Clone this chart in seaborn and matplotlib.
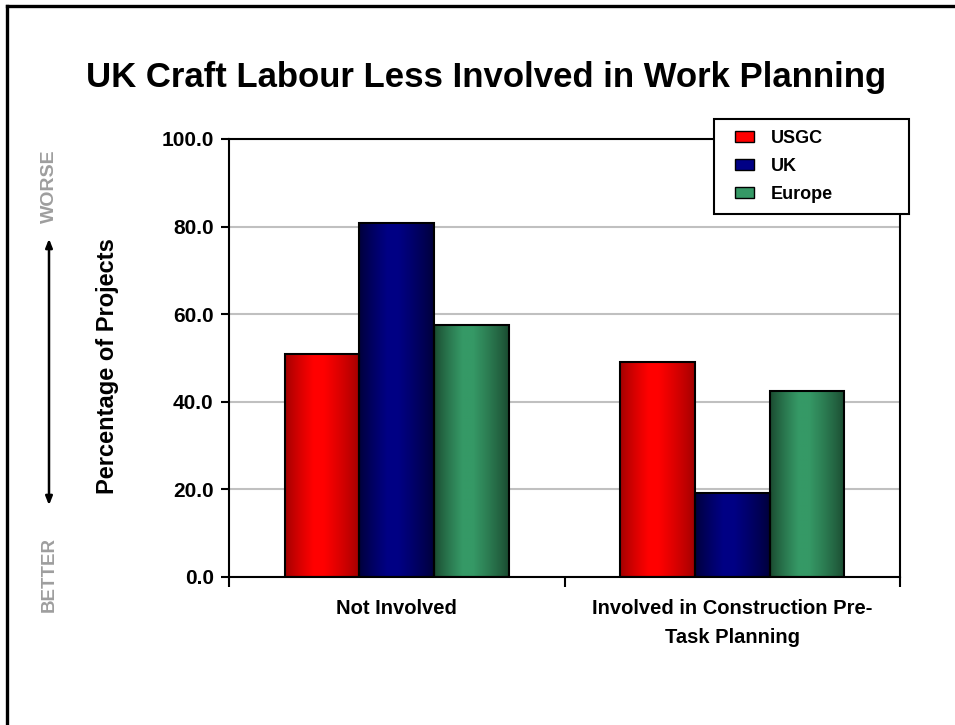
import numpy as np
import pandas as pd
import matplotlib
matplotlib.use("Agg")
import matplotlib.pyplot as plt
from matplotlib.patches import Rectangle, FancyArrowPatch
from matplotlib.lines import Line2D
from matplotlib.legend_handler import HandlerPatch
from matplotlib.ticker import FormatStrFormatter, FixedLocator
import seaborn as sns

# ---- data ----
categories = ["Not Involved", "Involved in Construction Pre-\nTask Planning"]
regions = ["USGC", "UK", "Europe"]
usgc = [50.8, 49.2]
uk = [80.9, 19.1]
europe = [57.6, 42.4]
y_ticks = [0, 20, 40, 60, 80, 100]

# base (centre) and edge shades for the shaded bars
centre_colors = {"USGC": (1.0, 0.0, 0.0), "UK": (0.0, 0.0, 0.52), "Europe": (0.21, 0.60, 0.40)}
edge_colors = {"USGC": (0.62, 0.0, 0.0), "UK": (0.0, 0.0, 0.22), "Europe": (0.10, 0.28, 0.18)}

df = pd.DataFrame({
    "category": categories * 3,
    "region": [r for r in regions for _ in categories],
    "value": usgc + uk + europe,
})

sns.set_theme(style="white")
plt.rcParams["font.family"] = ["Liberation Sans", "DejaVu Sans"]
plt.rcParams["font.weight"] = "bold"

W, H = 955, 725
fig = plt.figure(figsize=(W / 100, H / 100), dpi=100)
fig.patch.set_facecolor("white")
ax = fig.add_axes([229 / W, 1 - 577 / H, (900 - 229) / W, (577 - 139) / H])

palette = {r: centre_colors[r] for r in regions}
sns.barplot(data=df, x="category", y="value", hue="region", order=categories,
            hue_order=regions, palette=palette, width=0.667, saturation=1,
            edgecolor="black", linewidth=1.5, legend=False, ax=ax)

# horizontal shading inside each bar: dark edges, bright band left of centre
def shade_profile(n=200):
    t = np.linspace(0, 1, n)
    f = np.where(t < 0.38, t / 0.38, np.where(t < 0.52, 1.0, 1 - (t - 0.52) / 0.48))
    return np.clip(f, 0, 1) ** 0.8

prof = shade_profile()
bars = [p for p in ax.patches if isinstance(p, Rectangle)]
for i, bar in enumerate(bars):
    reg = regions[i // len(categories)]
    c0 = np.array(edge_colors[reg])
    c1 = np.array(centre_colors[reg])
    img = c0[None, None, :] + (c1 - c0)[None, None, :] * prof[None, :, None]
    x0, w = bar.get_x(), bar.get_width()
    h = bar.get_height()
    im = ax.imshow(img, extent=[x0, x0 + w, 0, h], aspect="auto", zorder=2,
                   interpolation="bilinear")
    im.set_clip_path(bar)
    bar.set_facecolor("none")
    bar.set_zorder(3)

ax.set_xlim(-0.5, 1.5)
ax.set_ylim(0, 100)
ax.set_yticks(y_ticks)
ax.yaxis.set_major_formatter(FormatStrFormatter("%.1f"))
ax.grid(axis="y", color="#c0c0c0", linewidth=1.5, zorder=0)
ax.set_axisbelow(True)
for s in ax.spines.values():
    s.set_visible(True)
    s.set_color("black")
    s.set_linewidth(1.5)

ax.tick_params(axis="y", which="major", direction="out", length=6, width=1.5,
               color="black", labelsize=15, pad=5, left=True)
ax.tick_params(axis="x", which="major", length=0, labelsize=14.5, pad=16)
ax.xaxis.set_minor_locator(FixedLocator([-0.5, 0.5, 1.5]))
ax.tick_params(axis="x", which="minor", direction="out", length=7, width=1.5,
               color="black", bottom=True)
for lab in ax.get_xticklabels() + ax.get_yticklabels():
    lab.set_fontweight("bold")
    lab.set_color("black")
for lab in ax.get_xticklabels():
    lab.set_linespacing(1.65)
    lab.set_verticalalignment("top")

ax.set_xlabel("")
ax.set_ylabel("Percentage of Projects", fontsize=17, fontweight="bold", color="black")
ax.yaxis.label.set_verticalalignment("center")
ax.yaxis.set_label_coords((108 - 229) / 671, (577 - 366) / 438)


# legend swatches sit a little in from the box edge (offset in points)
def swatch(legend, orig_handle, xdescent, ydescent, width, height, fontsize):
    off = 7.0
    return Rectangle((-xdescent + off, -ydescent), width - off, height)


handles = [Rectangle((0, 0), 1, 1, facecolor=centre_colors[r], edgecolor="black",
                     linewidth=1.0) for r in regions]
leg = fig.legend(handles, regions, loc="upper left",
                 bbox_to_anchor=(714 / W, 1 - 210 / H, 195 / W, 91 / H),
                 bbox_transform=fig.transFigure, mode="expand",
                 frameon=True, fancybox=False, edgecolor="black", framealpha=1,
                 prop={"weight": "bold", "size": 13}, labelcolor="black",
                 handlelength=1.59, handleheight=0.55, handletextpad=0.95,
                 labelspacing=0.6, borderpad=0.62, borderaxespad=0,
                 handler_map={Rectangle: HandlerPatch(patch_func=swatch)})
leg.get_frame().set_linewidth(1.5)
leg.set_zorder(10)

# title
fig.text(486 / W, 1 - 78 / H, "UK Craft Labour Less Involved in Work Planning",
         ha="center", va="center", fontsize=25, fontweight="bold", color="black")

# better / worse indicator
fig.patches.append(FancyArrowPatch(
    (49 / W, 1 - 508 / H), (49 / W, 1 - 236 / H), transform=fig.transFigure,
    arrowstyle="<|-|>,head_length=0.5,head_width=0.2", color="black", lw=1.8,
    mutation_scale=10))
fig.text(49 / W, 1 - 186 / H, "WORSE", rotation=90, ha="center", va="center",
         fontsize=14, fontweight="bold", color="#9e9e9e")
fig.text(49 / W, 1 - 574 / H, "BETTER", rotation=90, ha="center", va="center",
         fontsize=13.5, fontweight="bold", color="#9e9e9e")

# outer frame
fig.add_artist(Line2D([7 / W, 7 / W], [1 - 6 / H, -0.05], color="black", lw=2.4,
                      solid_capstyle="projecting"))
fig.add_artist(Line2D([7 / W, 1.05], [1 - 6 / H, 1 - 6 / H], color="black", lw=2.4,
                      solid_capstyle="projecting"))

fig.savefig("out.png", dpi=100, facecolor="white")
